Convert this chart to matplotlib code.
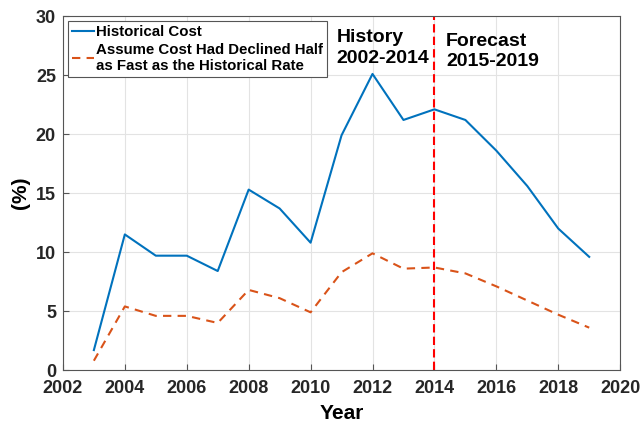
import matplotlib.pyplot as plt

plt.rcParams['font.family'] = ['Liberation Sans', 'DejaVu Sans']
plt.rcParams['font.weight'] = 'bold'

years = [2003, 2004, 2005, 2006, 2007, 2008, 2009, 2010, 2011,
         2012, 2013, 2014, 2015, 2016, 2017, 2018, 2019]
historical = [1.7, 11.5, 9.7, 9.7, 8.4, 15.3, 13.7, 10.8, 19.9,
              25.1, 21.2, 22.1, 21.2, 18.6, 15.6, 12.0, 9.6]
half_rate = [0.8, 5.4, 4.6, 4.6, 4.0, 6.8, 6.1, 4.9, 8.3,
             9.9, 8.6, 8.7, 8.2, 7.1, 5.9, 4.7, 3.6]
split_year = 2014

fig = plt.figure(figsize=(6.42, 4.24), dpi=100)
ax = fig.add_axes([0.098, 0.127, 0.868, 0.835])

ax.plot(years, historical, color='#0072BD', lw=1.5, label='Historical Cost')
ax.plot(years, half_rate, color='#D95319', lw=1.5, ls=(0, (4, 3)),
        label='Assume Cost Had Declined Half\nas Fast as the Historical Rate')
ax.axvline(split_year, color='red', lw=1.5, ls=(0, (4, 2)))

# 标注历史和预测区间
ax.text(2010.83, 27.3, 'History\n2002-2014', fontsize=14, fontweight='bold',
        va='center', ha='left', linespacing=1.25)
ax.text(2014.38, 27.0, 'Forecast\n2015-2019', fontsize=14, fontweight='bold',
        va='center', ha='left', linespacing=1.25)

ax.set_xlim(2002, 2020)
ax.set_ylim(0, 30)
ax.set_xticks(range(2002, 2021, 2))
ax.set_yticks(range(0, 31, 5))
ax.grid(True, color='#e3e3e3', lw=0.8)
ax.tick_params(labelsize=13, direction='in', length=4, color='#555555')
ax.tick_params(axis='x', pad=7)
ax.tick_params(axis='y', pad=5)
for lab in ax.get_xticklabels() + ax.get_yticklabels():
    lab.set_fontweight('bold')
    lab.set_color('#262626')
for s in ax.spines.values():
    s.set_color('#555555')
ax.set_xlabel('Year', fontsize=15, fontweight='bold', labelpad=5)
ax.set_ylabel('(%)', fontsize=15, fontweight='bold', labelpad=4)

leg = ax.legend(loc='upper left', fontsize=10.8, handlelength=1.45,
                handletextpad=0.15, borderpad=0.25, borderaxespad=0.35,
                fancybox=False, edgecolor='#555555', framealpha=1,
                labelspacing=0.25)
leg.get_frame().set_linewidth(0.8)
for t in leg.get_texts():
    t.set_fontweight('bold')

fig.savefig('out.png', dpi=100)
